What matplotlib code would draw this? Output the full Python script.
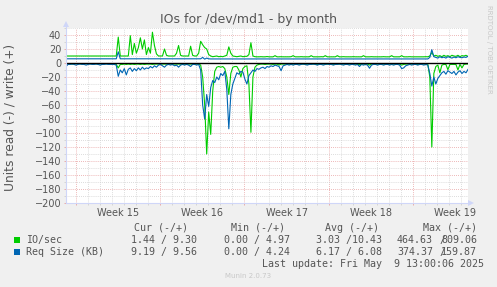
import matplotlib
matplotlib.use("Agg")
import matplotlib.pyplot as plt
import matplotlib.dates as mdates
from matplotlib.lines import Line2D
from matplotlib.patches import Polygon, Rectangle
import numpy as np
import pandas as pd

W, H = 497, 287

# 4 hour samples, last one at the "last update" time
times = pd.date_range("2025-04-06 05:00", "2025-05-09 13:00", freq="4h")

io_write = [
    10, 10, 10, 10, 10, 10, 10, 10, 10, 10, 10, 10,
    10, 10, 10, 10, 10, 10, 10, 10, 10, 10, 10, 10,
    10, 10, 37, 10, 10, 10, 10, 10, 39, 12, 28, 14,
    22, 36, 20, 33, 12, 22, 14, 44, 25, 13, 10, 10,
    10, 20, 11, 10, 10, 10, 10, 14, 25, 11, 10, 10,
    10, 10, 24, 11, 10, 10, 14, 31, 26, 22, 20, 12,
    10, 9, 9.5, 10, 9, 9.5, 9, 10, 11, 23, 14, 10,
    9.5, 9, 9.5, 10, 9, 9.5, 9.5, 12, 29, 10, 9, 8.8,
    8.8, 9, 8.8, 8.8, 9.2, 8.8, 8.8, 8.8, 10.5, 8.8, 8.8, 9,
    8.8, 8.8, 8.8, 8.8, 9, 10.5, 8.8, 8.8, 8.8, 9, 8.8, 8.8,
    8.8, 8.8, 10.5, 8.8, 8.8, 8.8, 8.8, 9, 8.8, 10.5, 8.8, 8.8,
    8.8, 8.8, 8.8, 10.5, 8.8, 8.8, 9, 8.8, 8.8, 8.8, 8.8, 9,
    8.8, 8.8, 8.8, 8.8, 10.5, 8.8, 8.8, 8.8, 9, 8.8, 8.8, 8.8,
    8.8, 8.8, 9, 8.8, 8.8, 8.8, 10.5, 8.8, 8.8, 8.8, 8.8, 10.5,
    8.8, 8.8, 8.8, 9, 8.8, 8.8, 8.8, 8.8, 8.8, 8.8, 8.8, 9,
    8.8, 10, 15, 10, 11, 9.5, 10.5, 9, 11, 9.5, 10.5, 9,
    11, 10, 9.5, 11, 9, 10.5, 10, 11, 9.3,
]
io_read = [
    1, 1, 1, 1.5, 1, 1, 1, 1, 1.5, 1, 1, 1,
    1, 1, 1, 1, 1.5, 1, 1, 1, 1, 1, 1, 1,
    1, 2, 7, 2, 2, 1.5, 2, 1.5, 2, 1.5, 2, 1.5,
    1.5, 2, 1.5, 2, 1.5, 1.5, 1.5, 2, 1.5, 1.5, 1.5, 1.5,
    1.5, 1.5, 1.5, 1.5, 1.5, 1.5, 1.5, 1.5, 1.5, 1.5, 1.5, 1.5,
    1.5, 1.5, 1.5, 1.5, 1.5, 1.5, 1.5, 3, 20, 60, 130, 70,
    102, 40, 12, 6, 5, 6, 5, 8, 20, 45, 15, 6,
    5, 5, 10, 20, 8, 5, 4, 30, 99, 20, 6, 3,
    2, 1.5, 1.5, 2, 1.5, 1.5, 1.5, 2, 1.5, 1.5, 3, 1.5,
    1.5, 1.5, 1.5, 1.5, 2, 1.5, 1.5, 1.5, 1.5, 1.5, 1.5, 2,
    1.5, 1.5, 1.5, 1.5, 1.5, 2, 1.5, 1.5, 1.5, 1.5, 1.5, 1.5,
    1.5, 2, 1.5, 1.5, 1.5, 1.5, 1.5, 1.5, 2, 1.5, 1.5, 1.5,
    1.5, 1.5, 2.5, 1.5, 1.5, 1.5, 1.5, 3, 1.5, 1.5, 1.5, 1.5,
    1.5, 1.5, 1.5, 2, 1.5, 1.5, 1.5, 1.5, 1.5, 1.5, 1.5, 3,
    2, 1.5, 1.5, 1.5, 1.5, 1.5, 1.5, 2, 1.5, 1.5, 1.5, 1.5,
    1.5, 20, 120, 15, 5, 3, 14, 3, 2, 2, 9.6, 2,
    2, 2, 2, 10, 2, 7, 2, 1.5, 1.44,
]
req_write = [
    6, 6, 6, 6, 6, 6, 6, 6, 6, 6, 6, 6,
    6, 6, 6, 6, 6, 6, 6, 6, 6, 6, 6, 6,
    6, 6, 16, 6, 6, 6, 6, 6, 6, 6, 6, 6,
    6, 6, 6, 6, 6, 6, 6, 6, 6, 6, 6, 6,
    6, 6, 6, 6, 6, 6, 6, 6, 6, 6, 6, 6,
    6, 6, 6, 6, 6, 6, 6, 6, 8, 5.5, 7, 6,
    5.8, 5.8, 5.8, 5.8, 5.8, 5.8, 5.8, 5.8, 5.8, 5.8, 5.8, 5.8,
    5.8, 5.8, 5.8, 5.8, 5.8, 5.8, 5.8, 5.8, 5.8, 5.8, 5.8, 5.8,
    5.8, 5.8, 5.8, 5.8, 5.8, 5.8, 5.8, 5.8, 5.8, 5.8, 5.8, 5.8,
    5.8, 5.8, 5.8, 5.8, 5.8, 5.8, 5.8, 5.8, 5.8, 5.8, 5.8, 5.8,
    5.8, 5.8, 5.8, 5.8, 5.8, 5.8, 5.8, 5.8, 5.8, 5.8, 5.8, 5.8,
    5.8, 5.8, 5.8, 5.8, 5.8, 5.8, 5.8, 5.8, 5.8, 5.8, 5.8, 5.8,
    5.8, 5.8, 5.8, 5.8, 5.8, 5.8, 5.8, 5.8, 5.8, 5.8, 5.8, 5.8,
    5.8, 5.8, 5.8, 5.8, 5.8, 5.8, 5.8, 5.8, 5.8, 5.8, 5.8, 5.8,
    5.8, 5.8, 5.8, 5.8, 5.8, 5.8, 5.8, 5.8, 5.8, 5.8, 5.8, 5.8,
    5.8, 8, 19, 9, 8, 7, 9, 7.5, 8.5, 7, 9, 8,
    7, 8.5, 7.5, 9, 8, 7.5, 8.5, 8, 9.56,
]
req_read = [
    5, 2, 2, 1.5, 2, 3, 2, 1.5, 2, 2, 3, 2,
    1.5, 2, 2, 1.5, 2, 3, 2, 2, 1.5, 2, 2, 2,
    2, 3, 19, 10, 14, 8, 17, 9, 7, 12, 8, 11,
    7, 10, 6, 9, 7, 8, 5, 7, 4, 6, 3, 2,
    4, 6, 3, 2, 3, 2, 4, 3, 6, 3, 2, 3,
    2, 3, 5, 2, 2, 3, 2, 10, 60, 80, 45, 62,
    35, 25, 28, 20, 24, 15, 18, 12, 38, 94, 45, 30,
    22, 14, 16, 12, 13, 23, 30, 18, 14, 10, 12, 8,
    9, 7, 6, 8, 5, 6, 4, 5, 3, 4, 5, 11,
    4, 3, 2, 3, 2, 3, 2, 2, 3, 2, 1.5, 2,
    3, 2, 2, 1.5, 2, 3, 2, 2, 3, 2, 1.5, 2,
    2, 3, 2, 2, 1.5, 2, 3, 2, 2, 3, 2, 2,
    3, 2, 5, 2, 3, 2, 3, 7.5, 3, 2, 2, 3,
    2, 2, 3, 2, 2, 3, 2, 3, 2, 2, 3, 8,
    7, 4, 3, 2, 3, 2, 2, 3, 2, 2, 3, 2,
    3, 15, 33, 20, 30, 22, 18, 14, 12, 16, 11, 13,
    15, 12, 17, 13, 11, 15, 12, 14, 9.19,
]

week_labels = ["Week 15", "Week 16", "Week 17", "Week 18", "Week 19"]
week_mid = pd.to_datetime(["2025-04-10 12:00", "2025-04-17 12:00", "2025-04-24 12:00",
                           "2025-05-01 12:00", "2025-05-08 12:00"])

legend_names = ["IO/sec", "Req Size (KB)"]
legend_colors = ["#00CC00", "#0066B3"]
cur_txt = ["1.44 / 9.30", "9.19 / 9.56"]
min_txt = ["0.00 / 4.97", "0.00 / 4.24"]
avg_txt = ["3.03 /10.43", "6.17 / 6.08"]
max_lo = ["464.63", "374.37"]
max_hi = ["809.06", "159.87"]

FONT = "#555555"
AXIS = "#CFD6F8"


def fx(px):
    return px / W


def fy(py):
    return 1 - py / H


fig = plt.figure(figsize=(W / 100, H / 100), dpi=100, facecolor="#F0F0F0")
ax = fig.add_axes([fx(66), fy(203), (468 - 66) / W, (203 - 28) / H])
ax.set_facecolor("white")

ax.plot(times, -np.array(io_read), color="#00CC00", lw=0.8)
ax.plot(times, io_write, color="#00CC00", lw=0.8)
ax.plot(times, -np.array(req_read), color="#0066B3", lw=0.8)
ax.plot(times, req_write, color="#0066B3", lw=0.8)
ax.axhline(0, color="black", lw=1.0, zorder=5)

ax.set_xlim(times[0], times[-1])
ax.set_ylim(-200, 50)
ax.xaxis.set_major_locator(mdates.WeekdayLocator(byweekday=mdates.MO))
ax.xaxis.set_minor_locator(mdates.DayLocator())
ax.xaxis.set_major_formatter(plt.NullFormatter())
ax.set_yticks(range(-200, 41, 20))
ax.set_yticks(range(-200, 51, 10), minor=True)

ax.grid(which="minor", color="#D0D0D0", ls=(0, (1, 1.5)), lw=0.6)
ax.grid(which="major", color="#E8A0A0", ls=(0, (1, 1.5)), lw=0.6)
ax.set_axisbelow(True)
for s in ax.spines.values():
    s.set_visible(False)
ax.tick_params(axis="y", which="major", colors="#E8A0A0", labelcolor=FONT,
               labelsize=7, length=1.5, width=0.6, pad=2)
ax.tick_params(axis="y", which="minor", colors="#D0D0D0", length=1.5, width=0.6)
ax.tick_params(axis="x", which="major", colors="#E8A0A0", length=1.5, width=0.6)
ax.tick_params(axis="x", which="minor", colors="#D0D0D0", length=1.5, width=0.6)

for lab, t in zip(week_labels, week_mid):
    ax.text(t, -9.7 / 175, lab, transform=ax.get_xaxis_transform(), ha="center",
            va="center", fontsize=7, color=FONT)

# axes with arrows
fig.add_artist(Line2D([fx(66), fx(66)], [fy(203), fy(26)], color=AXIS, lw=0.8))
fig.add_artist(Line2D([fx(66), fx(469)], [fy(203), fy(203)], color=AXIS, lw=0.8))
fig.add_artist(Polygon([[fx(63), fy(27)], [fx(69), fy(27)], [fx(66), fy(21)]], closed=True,
                       color=AXIS, lw=0))
fig.add_artist(Polygon([[fx(468), fy(200)], [fx(468), fy(206)], [fx(474), fy(203)]], closed=True,
                       color=AXIS, lw=0))

fig.text(fx(248), fy(19), "IOs for /dev/md1 - by month", ha="center", va="center",
         fontsize=9, color=FONT)
fig.text(fx(10), fy(117), "Units read (-) / write (+)", rotation=90, ha="center",
         va="center", fontsize=8.8, color=FONT)
fig.text(fx(489), fy(5), "RRDTOOL / TOBI OETIKER", rotation=270, ha="center", va="top",
         fontsize=5, color="#C8C8C8")

mono = "DejaVu Sans Mono"
fs = 7.2
for x, h in zip([134, 230.7, 325, 422.7], ["Cur (-/+)", "Min (-/+)", "Avg (-/+)", "Max (-/+)"]):
    fig.text(fx(x), fy(228), h, family=mono, fontsize=fs, color=FONT, va="center")
for k in range(2):
    y = 240 + 12 * k
    fig.add_artist(Rectangle((fx(14), fy(y + 3)), 6 / W, 6 / H, color=legend_colors[k], lw=0))
    fig.text(fx(26), fy(y), legend_names[k], family=mono, fontsize=fs, color=FONT, va="center")
    fig.text(fx(131), fy(y), cur_txt[k], family=mono, fontsize=fs, color=FONT, va="center")
    fig.text(fx(224), fy(y), min_txt[k], family=mono, fontsize=fs, color=FONT, va="center")
    fig.text(fx(316), fy(y), avg_txt[k], family=mono, fontsize=fs, color=FONT, va="center")
    fig.text(fx(397), fy(y), max_lo[k], family=mono, fontsize=fs, color=FONT, va="center")
    # the slash is drawn over the first digit, as munin does here
    fig.text(fx(439), fy(y), "/", family=mono, fontsize=fs, color=FONT, va="center")
    fig.text(fx(441), fy(y), max_hi[k], family=mono, fontsize=fs, color=FONT, va="center")
fig.text(fx(262), fy(264), "Last update: Fri May  9 13:00:06 2025", family=mono,
         fontsize=fs, color=FONT, va="center")
fig.text(fx(248), fy(276), "Munin 2.0.73", ha="center", va="center", fontsize=5,
         color="#C8C8C8")

fig.savefig("out.png", dpi=100, facecolor="#F0F0F0")
